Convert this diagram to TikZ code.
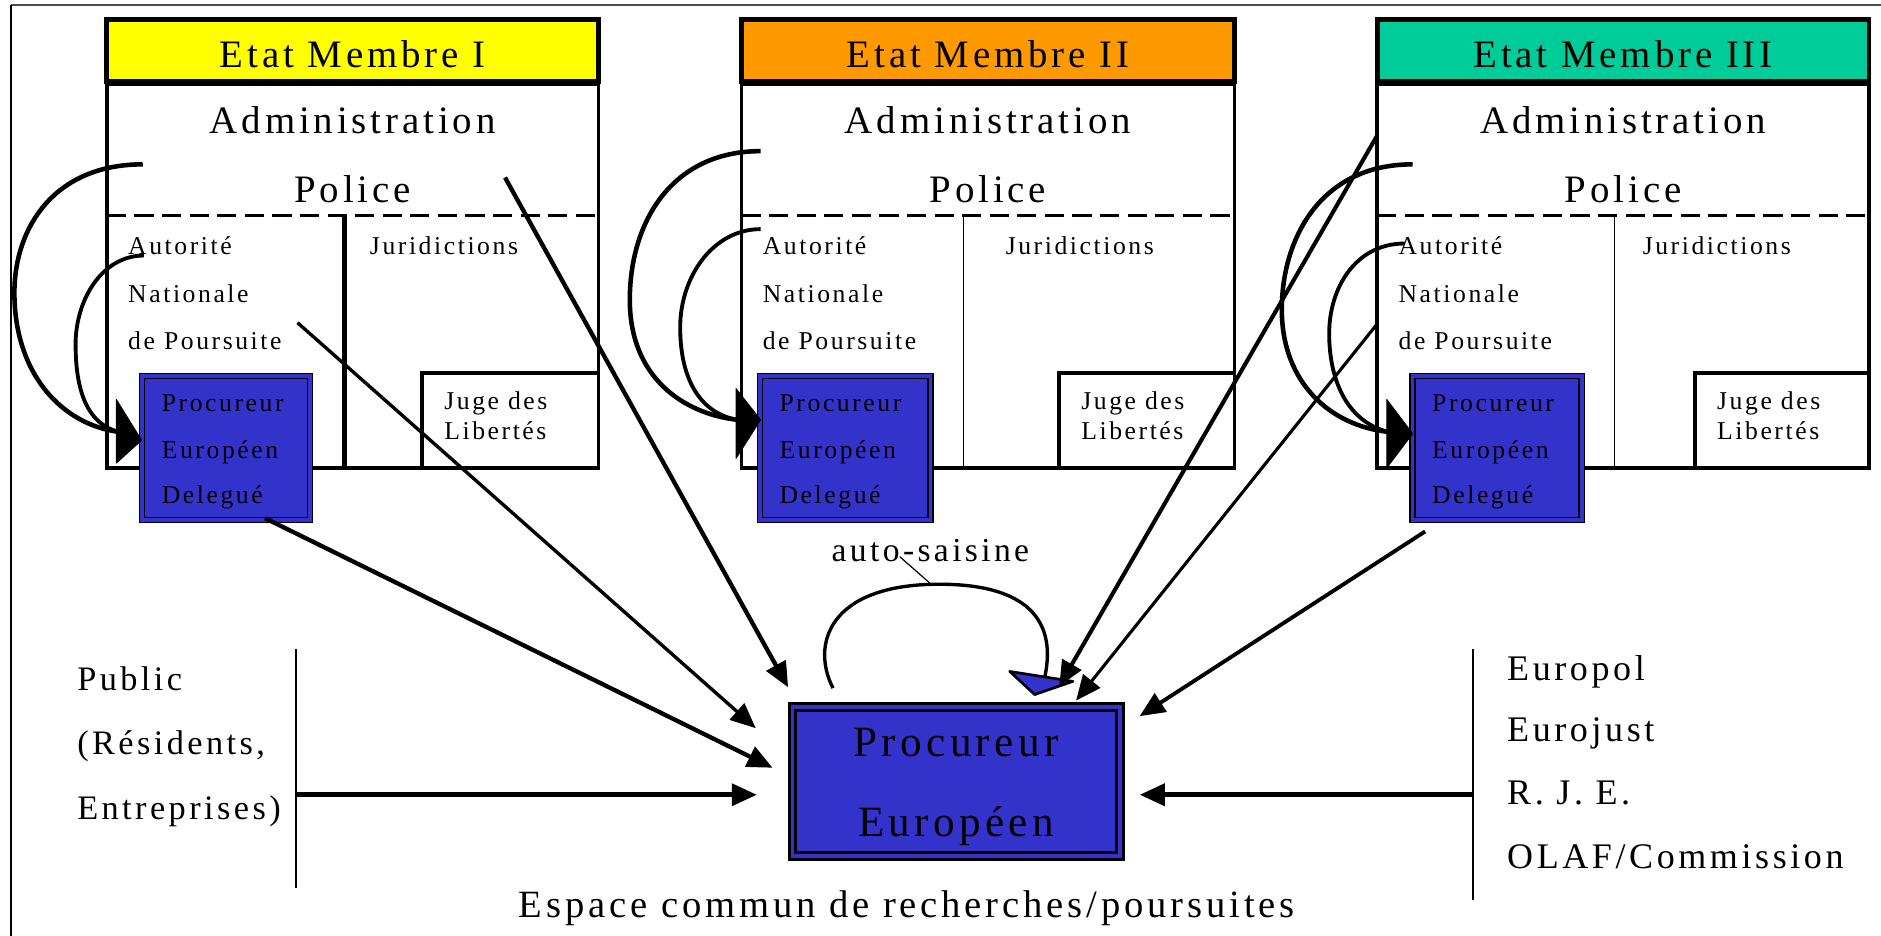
\documentclass[tikz,border=0pt]{standalone}
\usepackage{fontspec}
\setmainfont{Liberation Serif}[LetterSpace=10]
\usetikzlibrary{arrows.meta,fit}
\definecolor{jauneEM}{HTML}{FFFF00}
\definecolor{orangeEM}{HTML}{FF9900}
\definecolor{vertEM}{HTML}{00CC99}
\definecolor{peblue}{HTML}{3333CC}
\newcommand\fbig{\fontsize{16.2}{19}\selectfont}
\newcommand\fsm{\fontsize{10.7}{12}\selectfont}
\newcommand\fpe{\fontsize{18}{21}\selectfont}
\newcommand\fpub{\fontsize{14.3}{17}\selectfont}
\newcommand\feur{\fontsize{15}{18}\selectfont}
\newcommand\fauto{\fontsize{14}{17}\selectfont}
\newcommand\fesp{\fontsize{16.1}{19}\selectfont}
\begin{document}
\begin{tikzpicture}[x=0.5pt,y=-0.5pt,
  hdr/.style={draw, line width=2pt, inner sep=0pt, outer sep=0pt},
  bodybox/.style={draw, line width=1.5pt, inner sep=0pt, outer sep=0pt},
  jugebox/.style={draw, fill=white, line width=1.5pt, inner sep=0pt, outer sep=0pt},
  pedbox/.style={draw, fill=peblue, double=peblue, double distance=1.5pt, line width=0.6pt, inner sep=0pt, outer sep=0pt},
  pebox/.style={draw, fill=peblue, double=peblue, double distance=1.5pt, line width=1.2pt, inner sep=0pt, outer sep=0pt},
  txt/.style={inner sep=0pt, anchor=base},
  ltxt/.style={inner sep=0pt, anchor=base west},
  dashline/.style={line width=1.2pt, dash pattern=on 8pt off 3.5pt},
  arcline/.style={line width=1.9pt},
  flow/.style={-{Triangle[length=10.5pt,width=9pt]}},
  headtri/.style={fill=black, draw=black, line width=0.4pt, line join=round},
  thinrule/.style={line width=0.7pt}
]
\useasboundingbox (0,0) rectangle (1568,780);
% frame
\draw[line width=0.7pt, black!70] (9,4) -- (1568,4);
\draw[line width=1pt] (9,4) -- (9,780);

% member states
\foreach \id/\L/\R/\D/\J/\PL/\PR/\col/\ttl/\dw/\JR in {
  a/89/499/287/352/116/261/jauneEM/Etat Membre I/1.9pt/308,
  b/618/1029/803/883/631/778/orangeEM/Etat Membre II/0.6pt/838,
  c/1148/1558/1346/1413/1175/1321/vertEM/Etat Membre III/0.6pt/1369}{
  \pgfmathsetmacro\C{(\L+\R)/2}
  \pgfmathsetmacro\AL{\L+17.5}
  \pgfmathsetmacro\JT{\J+18}
  \pgfmathsetmacro\PT{\PL+18.5}
  \pgfmathsetmacro\PLi{\PL+2.5}
  \pgfmathsetmacro\PRi{\PR-2.5}
  \node[hdr, fill=\col, fit={(\L,16)(\R,68)}] (h\id) {};
  \node[txt, font=\fbig] (ht\id) at (\C,56) {\ttl};
  \node[bodybox, fit={(\L,70)(\R,390)}] (b\id) {};
  \node[txt, font=\fbig] (adm\id) at (\C,111) {Administration};
  \node[txt, font=\fbig] (pol\id) at (\C,169) {Police};
  \draw[dashline] (\L,180) -- (\R,180);
  \draw[line width=\dw] (\D,180) -- (\D,390);
  \node[ltxt, font=\fsm] (au\id) at (\AL,212) {Autorité};
  \node[ltxt, font=\fsm] (na\id) at (\AL,252) {Nationale};
  \node[ltxt, font=\fsm] (dp\id) at (\AL,291) {de Poursuite};
  \node[ltxt, font=\fsm] (ju\id) at (\JR,212) {Juridictions};
  \node[jugebox, fit={(\J,311)(\R,390)}] (jl\id) {};
  \node[ltxt, font=\fsm] (jd\id) at (\JT,341) {Juge des};
  \node[ltxt, font=\fsm] (li\id) at (\JT,366) {Libertés};
  \node[pedbox, fit={(\PLi,313.5)(\PRi,433.5)}] (ped\id) {};
  \node[ltxt, font=\fsm] (pp\id) at (\PT,343) {Procureur};
  \node[ltxt, font=\fsm] (pe\id) at (\PT,382) {Européen};
  \node[ltxt, font=\fsm] (pd\id) at (\PT,420) {Delegué};
}

% main box
\node[pebox, fit={(660.5,589.5)(933.5,713.5)}] (pe) {};
\node[txt, font=\fpe] (pe1) at (797,631) {Procureur};
\node[txt, font=\fpe] (pe2) at (797,697) {Européen};
\node[txt, font=\fesp] (esp) at (756,765) {Espace commun de recherches/poursuites};

% public
\node[ltxt, font=\fpub] (pub1) at (64,576) {Public};
\node[ltxt, font=\fpub] (pub2) at (64,629) {(Résidents,};
\node[ltxt, font=\fpub] (pub3) at (64,683) {Entreprises)};
\draw[thinrule] (247,541) -- (247,740);
% institutions
\node[ltxt, font=\feur] (eu1) at (1256,567) {Europol};
\node[ltxt, font=\feur] (eu2) at (1256,618) {Eurojust};
\node[ltxt, font=\feur] (eu3) at (1256,671) {R. J. E.};
\node[ltxt, font=\feur] (eu4) at (1256,724) {OLAF/Commission};
\draw[thinrule] (1228,541) -- (1228,750);

% auto-saisine
\node[txt, font=\fauto] (auto) at (775.6,468) {auto-saisine};
\coordinate (autoL) at (750,464);
\coordinate (loopTop) at (775,486);
\draw[line width=0.5pt] (autoL) -- (loopTop);
\coordinate (loopS) at (694.4,573.6);
\coordinate (loopE) at (871,564);
\draw[line width=1.4pt] (loopS) .. controls (676,538) and (690,487) .. (783,487) .. controls (862,487) and (880,522) .. (loopE);
\filldraw[fill=peblue, draw=black, line width=1.1pt, line join=round] (841.7,559.7) -- (894.4,568) -- (862.5,579) -- cycle;

% coordinates for straight arrows
\coordinate (sA) at (421,148);   \coordinate (eA) at (657,573);
\coordinate (sB) at (248,269);   \coordinate (eB) at (630,607);
\coordinate (sC) at (221,432);   \coordinate (eC) at (644,640);
\coordinate (sD) at (247,662.5); \coordinate (eD) at (631,662.5);
\coordinate (sE) at (1228,662.5);\coordinate (eE) at (950,662.5);
\coordinate (sF) at (1188,443);  \coordinate (eF) at (950,597);
\coordinate (sG) at (1148,270);  \coordinate (eG) at (897,584);
\coordinate (sH) at (1148,113);  \coordinate (eH) at (883,572);

\draw[flow, line width=1.8pt] (sA) -- (eA);
\draw[flow, line width=1.4pt] (sB) -- (eB);
\draw[flow, line width=1.8pt] (sC) -- (eC);
\draw[flow, line width=2.1pt] (sD) -- (eD);
\draw[flow, line width=2.1pt] (sE) -- (eE);
\draw[flow, line width=1.6pt] (sF) -- (eF);
\draw[flow, line width=1.3pt] (sG) -- (eG);
\draw[flow, line width=1.7pt] (sH) -- (eH);

% curved arrows member I
\coordinate (a1o) at (119,137); \coordinate (a1i) at (120,213); \coordinate (a1e) at (99,360);
\draw[arcline] (a1o) .. controls (45,137) and (12,190) .. (12,244) .. controls (12,312) and (52,354) .. (a1e);
\draw[arcline, line width=1.6pt] (a1i) .. controls (85,213) and (63,250) .. (63,287) .. controls (63,330) and (75,354) .. (a1e);
\filldraw[headtri] (97,333) -- (118,367) -- (97,386) -- cycle;
% member II
\coordinate (a2o) at (634,126); \coordinate (a2i) at (634,191); \coordinate (a2e) at (615,350);
\draw[arcline] (a2o) .. controls (560,126) and (525,185) .. (525,250) .. controls (525,315) and (570,345) .. (a2e);
\draw[arcline, line width=1.6pt] (a2i) .. controls (595,191) and (567,230) .. (567,273) .. controls (567,318) and (585,345) .. (a2e);
\filldraw[headtri] (613.6,324) -- (634,350) -- (613.6,382) -- cycle;
% member III
\coordinate (a3o) at (1177.5,137); \coordinate (a3i) at (1171,203); \coordinate (a3e) at (1157,360);
\draw[arcline] (a3o) .. controls (1100,137) and (1068.5,200) .. (1068.5,258) .. controls (1068.5,320) and (1110,355) .. (a3e);
\draw[arcline, line width=1.6pt] (a3i) .. controls (1130,203) and (1108,240) .. (1108,278) .. controls (1108,320) and (1125,352) .. (a3e);
\filldraw[headtri] (1156,333) -- (1177.5,361.5) -- (1156,390) -- cycle;
\end{tikzpicture}
\end{document}
